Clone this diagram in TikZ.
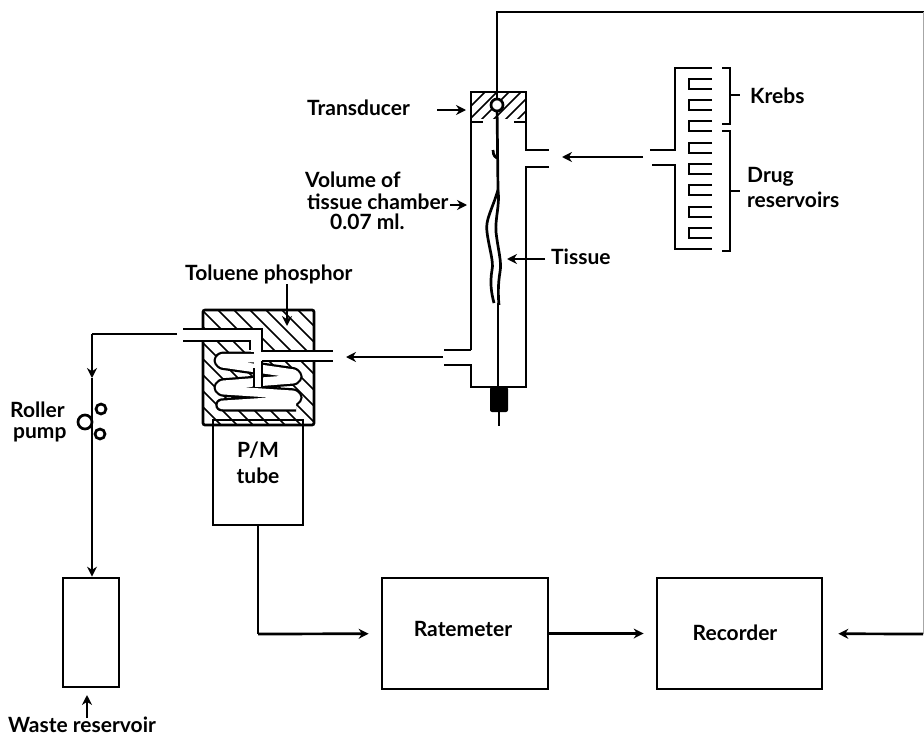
\documentclass[tikz,border=0pt]{standalone}
\usepackage{fontspec}
\setmainfont{Lato}
\usetikzlibrary{arrows.meta}
\tikzset{
    box_node/.style={rectangle, draw=black, line width=2.7pt, inner sep=0pt},
    label_text/.style={inner sep=0pt, anchor=west, font=\bfseries\fontsize{21}{24}\selectfont},
    arrow/.style={line width=2.7pt, -{Stealth[length=10pt,width=10pt]}},
    line/.style={line width=2.7pt},
    thin_line/.style={line width=2.4pt},
    hatch/.style={line width=1.7pt},
    white_circ/.style={circle, draw=black, fill=white, line width=2.7pt, inner sep=0pt},
}
\begin{document}
\begin{tikzpicture}[x=1pt, y=-1pt]
      \useasboundingbox (0,0) rectangle (924,736);

      % boxes along the bottom
      \node (tube) at (258,472.5) [box_node, minimum width=90pt, minimum height=105pt]{};
      \node (tube_a) at (258,450) [label_text, anchor=center]{P/M};
      \node (tube_b) at (258,476) [label_text, anchor=center]{tube};
      \node (rate) at (465,633.5) [box_node, minimum width=166pt, minimum height=111pt]{};
      \node (rate_text) at (463,629) [label_text, anchor=center]{Ratemeter};
      \node (rec) at (739.5,633.5) [box_node, minimum width=165pt, minimum height=111pt]{};
      \node (rec_text) at (735,633) [label_text, anchor=center]{Recorder};
      \node (waste) at (91,632.5) [box_node, minimum width=56pt, minimum height=109pt]{};

      % tissue chamber
      \draw [line] (471,350) -- (471,92) -- (526,92) -- (526,150) -- (549,150);
      \draw [line] (549,167) -- (526,167) -- (526,387) -- (471,387) -- (471,365) -- (444,365);
      \draw [line] (471,350) -- (444,350);
      \begin{scope}
        \clip (471,92) rectangle (526,118);
        \foreach \i in {0,...,7}
          \draw [hatch] (455+12*\i,122) -- (455+12*\i+32,90);
      \end{scope}
      \draw [line] (471,122) -- (483,122);
      \draw [line] (514,122) -- (526,122);
      \coordinate (rod_top) at (498,190);
      \coordinate (rod_bot) at (498,387);
      \draw [line] (497,105) -- (rod_top);
      \node (head) at (497,105) [white_circ, minimum size=12pt]{};
      \draw [line] (493,150) .. controls (493,156) and (496,158) .. (498,158);
      \draw [line] (498,190) .. controls (492,210) and (485,220) .. (487,232) .. controls (489,248) and (494,262) .. (492,270) .. controls (490,282) and (491,292) .. (494,303);
      \draw [line] (498,190) .. controls (500,205) and (495,218) .. (496,232) .. controls (498,250) and (502,262) .. (500,272) .. controls (498,284) and (498,295) .. (499,305);
      \draw [line] (498,303) -- (rod_bot);
      \fill [black, rounded corners=2pt] (490,387) rectangle (508,412);
      \coordinate (plug_bot) at (499,412);
      \coordinate (rod_end) at (499,426);
      \draw [line] (plug_bot) -- (rod_end);

      % lead from the transducer round to the recorder
      \coordinate (lead_a) at (497,12);
      \coordinate (lead_b) at (924,12);
      \coordinate (lead_c) at (923,634);
      \draw [line] (head) -- (lead_a) -- (lead_b);
      \draw [line width=0.6pt, black!35] (lead_c |- lead_b) -- (lead_c);
      \draw [arrow, shorten >=15pt] (lead_c) -- (rec);

      % reservoirs
      \draw [line] (712,68) -- (675,68) -- (675,150) -- (650,150);
      \draw [line] (652,165) -- (675,165) -- (675,249) -- (712,249);
      \foreach \y in {79,100,121,143,164,185,207,228}
        \draw [thin_line] (712,\y) -- (689,\y) -- (689,\y+10) -- (712,\y+10);
      \draw [line] (722,68) -- (730,68) -- (730,124) -- (722,124);
      \draw [line] (722,131) -- (730,131) -- (730,251) -- (722,251);
      \draw [line] (730,95) -- (740,95);
      \draw [line] (730,191) -- (740,191);
      \node (krebs) at (750,96) [label_text]{Krebs};
      \node (drug_a) at (747,177) [label_text]{Drug};
      \node (drug_b) at (747,200) [label_text]{reservoirs};

      % phosphor cell
      \begin{scope}
        \clip (203,310) rectangle (314,425);
        \foreach \i in {0,...,14}
          \draw [hatch] (96+16*\i,300) -- (96+16*\i+130,430);
      \end{scope}
      \draw [line, rounded corners=2pt] (203,310) rectangle (314,425);
      \draw [black, line width=13pt, rounded corners=3pt, line join=round] (257,358) -- (220,358) -- (220,363) -- (296,374) -- (296,379) -- (220,385) -- (220,390) -- (296,395) -- (296,400) -- (220,405) -- (296,405);
      \draw [white, line width=8.5pt, rounded corners=3pt, line join=round] (257,358) -- (220,358) -- (220,363) -- (296,374) -- (296,379) -- (220,385) -- (220,390) -- (296,395) -- (296,400) -- (220,405) -- (296,405);
      \fill [white] (183,330) rectangle (262,340);
      \fill [white] (251,330) rectangle (262,352);
      \fill [white] (254,352) rectangle (262,387);
      \fill [white] (262,352) rectangle (333,360);
      \draw [line] (183,329) -- (262,329) -- (262,351) -- (333,351);
      \draw [line] (183,341) -- (250,341) -- (250,350);
      \draw [line] (262,361) -- (333,361);
      \draw [thin_line] (262,361) -- (262,387);
      \draw [thin_line] (254,368) -- (254,387);
      \node (toluene) at (185,274) [label_text]{Toluene phosphor};
      \coordinate (toluene_a) at (287,284);
      \coordinate (toluene_b) at (287,326);
      \draw [arrow] (toluene_a) -- (toluene_b);

      % pump line
      \coordinate (pump_a) at (177,334);
      \coordinate (pump_b) at (92,334);
      \coordinate (pump_c) at (92,378);
      \draw [line] (pump_a) -- (pump_b);
      \draw [arrow] (pump_b) -- (pump_c);
      \draw [arrow] (pump_c) -- (waste.north -| pump_c);
      \node (roller_big) at (85,422) [white_circ, minimum size=14pt]{};
      \node (roller_a) at (101,409) [white_circ, minimum size=10pt]{};
      \node (roller_b) at (100,434) [white_circ, minimum size=10pt]{};
      \node (roller) at (10,410) [label_text]{Roller};
      \node (pump) at (13,435) [label_text]{pump};

      % signal path
      \coordinate (tube_turn) at (258,634);
      \draw [line] (tube) -- (tube_turn);
      \draw [arrow, shorten >=12pt] (tube_turn) -- (rate);
      \draw [arrow, shorten >=12pt] (rate) -- (rec);

      % labels with their arrows
      \node (trans) at (307,108) [label_text]{Transducer};
      \coordinate (trans_a) at (437,110);
      \coordinate (trans_b) at (466,110);
      \draw [arrow] (trans_a) -- (trans_b);
      \node (vol_a) at (305,180) [label_text]{Volume of};
      \node (vol_b) at (307,202) [label_text]{tissue chamber};
      \node (vol_c) at (330,222) [label_text]{0.07 ml.};
      \coordinate (vol_d) at (450,205);
      \coordinate (vol_e) at (467,205);
      \draw [arrow] (vol_d) -- (vol_e);
      \node (tissue) at (551,257) [label_text]{Tissue};
      \coordinate (tissue_a) at (545,259);
      \coordinate (tissue_b) at (507,259);
      \draw [arrow] (tissue_a) -- (tissue_b);
      \coordinate (res_a) at (643,157);
      \coordinate (res_b) at (562,157);
      \draw [arrow] (res_a) -- (res_b);
      \coordinate (cell_a) at (443,357);
      \coordinate (cell_b) at (346,357);
      \draw [arrow] (cell_a) -- (cell_b);
      \node (waste_text) at (8,725) [label_text]{Waste reservoir};
      \coordinate (waste_a) at (87,718);
      \coordinate (waste_b) at (87,695);
      \draw [arrow] (waste_a) -- (waste_b);
\end{tikzpicture}
\end{document}
